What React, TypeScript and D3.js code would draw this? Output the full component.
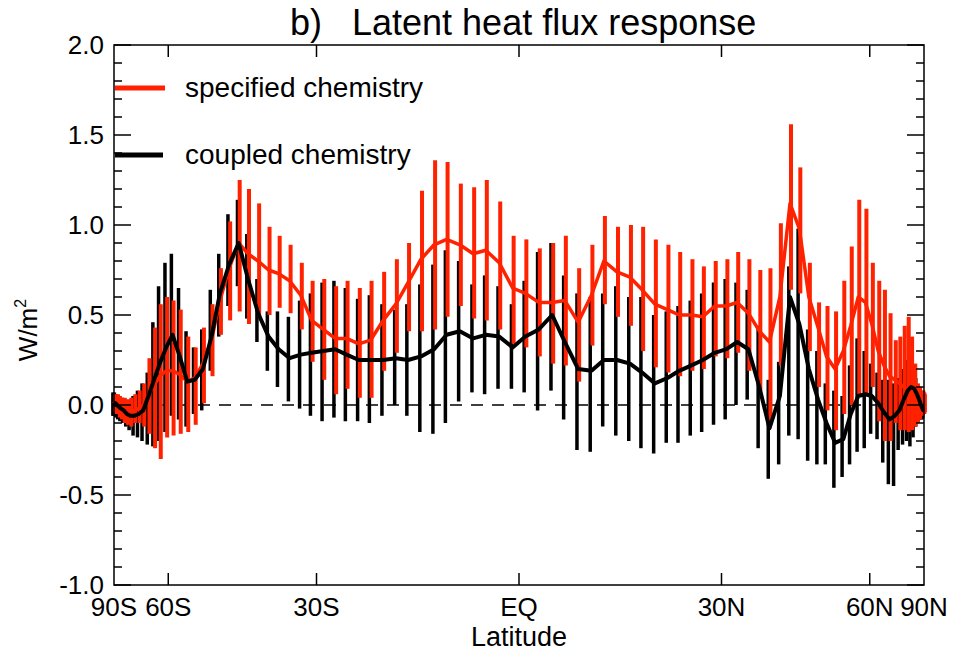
import React from "react";
import * as d3 from "d3";

const lats = [-88.6, -86.7, -84.9, -83.0, -81.1, -79.3, -77.4, -75.5, -73.7, -71.8, -69.9, -68.1, -66.2, -64.3, -62.5, -60.6, -58.8, -56.9, -55.0, -53.2, -51.3, -49.4, -47.6, -45.7, -43.8, -42.0, -40.1, -38.2, -36.4, -34.5, -32.6, -30.8, -28.9, -27.0, -25.2, -23.3, -21.5, -19.6, -17.7, -15.9, -14.0, -12.1, -10.3, -8.4, -6.5, -4.7, -2.8, -0.9, 0.9, 2.8, 4.7, 6.5, 8.4, 10.3, 12.1, 14.0, 15.9, 17.7, 19.6, 21.5, 23.3, 25.2, 27.0, 28.9, 30.8, 32.6, 34.5, 36.4, 38.2, 40.1, 42.0, 43.8, 45.7, 47.6, 49.4, 51.3, 53.2, 55.0, 56.9, 58.8, 60.6, 62.5, 64.3, 66.2, 68.1, 69.9, 71.8, 73.7, 75.5, 77.4, 79.3, 81.1, 83.0, 84.9, 86.7, 88.6];

const redMean = [0.02, 0.01, 0.0, 0.01, -0.01, -0.02, -0.03, -0.05, -0.05, -0.03, -0.02, 0.0,
  0.06, 0.11, 0.16, 0.19, 0.19, 0.17, 0.13, 0.15, 0.23, 0.36, 0.58, 0.76, 0.9, 0.84, 0.8, 0.75,
  0.73, 0.69, 0.61, 0.47, 0.42, 0.37, 0.37, 0.34, 0.36, 0.47, 0.56, 0.68, 0.81,
  0.89, 0.92, 0.89, 0.84, 0.86, 0.79, 0.65, 0.62, 0.57, 0.57, 0.58, 0.46,
  0.61, 0.8, 0.74, 0.71, 0.64, 0.56, 0.53, 0.5, 0.5, 0.49, 0.55, 0.55,
  0.57, 0.51, 0.41, 0.35, 0.6, 1.12, 0.98, 0.6, 0.43, 0.27, 0.2, 0.3, 0.44, 0.6, 0.57, 0.45, 0.3, 0.22, 0.16, 0.14, 0.12, 0.1, 0.08, 0.06, 0.05, 0.04, 0.03, 0.03, 0.03, 0.02, 0.02];
const redLo = [-0.04, -0.04, -0.05, -0.05, -0.07, -0.08, -0.1, -0.11, -0.12, -0.1, -0.1, -0.12,
  -0.16, -0.24, -0.3, -0.18, -0.17, -0.16, -0.15, -0.11, 0.01, 0.16, 0.39, 0.47, 0.52, 0.45, 0.49, 0.5,
  0.54, 0.51, 0.42, 0.24, 0.14, 0.06, 0.09, 0.04, 0.04, 0.19, 0.29, 0.41, 0.41,
  0.42, 0.49, 0.55, 0.48, 0.47, 0.42, 0.34, 0.32, 0.27, 0.23, 0.22, 0.13,
  0.33, 0.56, 0.49, 0.44, 0.3, 0.21, 0.18, 0.16, 0.19, 0.2, 0.27, 0.26,
  0.29, 0.19, 0.08, -0.09, 0.22, 0.64, 0.62, 0.3, 0.1, -0.03, -0.14, -0.05, 0.0, 0.06, 0.06, 0.1, -0.09, -0.2, -0.2, -0.1, -0.14, -0.14, -0.15, -0.14, -0.12, -0.1, -0.08, -0.06, -0.05, -0.05, -0.04];
const redHi = [0.06, 0.05, 0.05, 0.06, 0.05, 0.04, 0.04, 0.03, 0.04, 0.06, 0.08, 0.12,
  0.26, 0.43, 0.56, 0.6, 0.58, 0.53, 0.38, 0.32, 0.43, 0.56, 0.76, 1.02, 1.25, 1.2, 1.12, 0.99,
  0.94, 0.89, 0.79, 0.69, 0.7, 0.66, 0.69, 0.65, 0.69, 0.74, 0.81, 0.9, 1.19,
  1.36, 1.35, 1.23, 1.21, 1.25, 1.13, 0.94, 0.92, 0.87, 0.9, 0.94, 0.76,
  0.89, 1.05, 0.99, 1.0, 0.99, 0.92, 0.89, 0.85, 0.81, 0.77, 0.8, 0.81,
  0.85, 0.81, 0.75, 0.76, 1.01, 1.56, 1.32, 0.79, 0.57, 0.55, 0.52, 0.69, 0.88, 1.14, 1.09, 0.79, 0.69, 0.64, 0.51, 0.36, 0.38, 0.44, 0.49, 0.38, 0.23, 0.12, 0.1, 0.08, 0.08, 0.07, 0.06];

const blackMean = [0.01, 0.0, 0.01, 0.0, -0.01, -0.02, -0.03, -0.05, -0.06, -0.06, -0.05, -0.03,
  0.05, 0.14, 0.23, 0.32, 0.39, 0.27, 0.13, 0.14, 0.2, 0.38, 0.62, 0.78, 0.9, 0.7, 0.51, 0.38,
  0.31, 0.26, 0.28, 0.29, 0.3, 0.31, 0.28, 0.25, 0.25, 0.25, 0.26, 0.25, 0.27,
  0.31, 0.39, 0.41, 0.37, 0.39, 0.38, 0.32, 0.38, 0.42, 0.5, 0.35, 0.2,
  0.19, 0.25, 0.25, 0.23, 0.18, 0.12, 0.15, 0.19, 0.22, 0.25, 0.29, 0.31,
  0.35, 0.31, 0.1, -0.13, 0.05, 0.6, 0.45, 0.2, 0.03, -0.1, -0.21, -0.19, -0.05, 0.05, 0.06, 0.05, 0.01, -0.04, -0.08, -0.06, -0.03, 0.03, 0.08, 0.1, 0.09, 0.06, 0.03, 0.0, -0.02, -0.03, -0.03];
const blackLo = [-0.06, -0.06, -0.05, -0.07, -0.08, -0.09, -0.1, -0.12, -0.14, -0.17, -0.18, -0.2,
  -0.22, -0.23, -0.2, -0.15, -0.06, -0.08, -0.12, -0.05, -0.03, 0.19, 0.38, 0.55, 0.66, 0.48, 0.35, 0.19,
  0.1, 0.02, -0.02, -0.06, -0.09, -0.07, -0.09, -0.09, -0.1, -0.06, 0.0, -0.06, -0.15,
  -0.16, -0.1, 0.02, 0.07, 0.06, 0.09, 0.09, 0.07, -0.03, 0.08, -0.08, -0.25,
  -0.26, -0.12, -0.17, -0.2, -0.24, -0.27, -0.21, -0.21, -0.17, -0.15, -0.11, -0.08,
  0.0, 0.03, -0.24, -0.41, -0.33, -0.17, -0.19, -0.31, -0.33, -0.33, -0.46, -0.4, -0.33, -0.26, -0.24, -0.16, -0.19, -0.32, -0.44, -0.45, -0.25, -0.22, -0.2, -0.23, -0.18, -0.12, -0.1, -0.08, -0.08, -0.08, -0.07];
const blackHi = [0.07, 0.06, 0.07, 0.06, 0.05, 0.05, 0.04, 0.03, 0.03, 0.05, 0.08, 0.12,
  0.18, 0.46, 0.66, 0.79, 0.84, 0.65, 0.41, 0.32, 0.42, 0.64, 0.84, 1.06, 1.14, 0.95, 0.7, 0.52,
  0.52, 0.49, 0.58, 0.62, 0.68, 0.69, 0.65, 0.59, 0.61, 0.56, 0.53, 0.56, 0.67,
  0.78, 0.86, 0.8, 0.67, 0.72, 0.66, 0.56, 0.69, 0.85, 0.9, 0.72, 0.62,
  0.6, 0.62, 0.66, 0.6, 0.6, 0.5, 0.52, 0.55, 0.58, 0.62, 0.68, 0.7,
  0.68, 0.64, 0.44, 0.14, 0.24, 0.77, 0.98, 0.42, 0.3, 0.12, 0.08, 0.05, 0.22, 0.37, 0.3, 0.23, 0.18, 0.14, 0.14, 0.12, 0.15, 0.2, 0.25, 0.28, 0.22, 0.15, 0.1, 0.07, 0.05, 0.04, 0.03];

const xTickLats = [-90, -60, -30, 0, 30, 60, 90];
const xTickLabels = ["90S", "60S", "30S", "EQ", "30N", "60N", "90N"];
const yMajorTicks = [-1.0, -0.5, 0.0, 0.5, 1.0, 1.5, 2.0];
const seriesNames = ["specified chemistry", "coupled chemistry"];

const RED = "#ff2200";
const FONT = "'Liberation Sans', Arial, Helvetica, sans-serif";

export default function App() {
  const W = 953, H = 652;
  const left = 114, right = 924, top = 45, bottom = 585;
  const sx = d3.scaleLinear().domain([-1, 1]).range([left, right]);
  const x = (lat: number) => sx(Math.sin((lat * Math.PI) / 180));
  const y = d3.scaleLinear().domain([-1, 2]).range([bottom, top]);

  const minorTicks = d3.range(-10, 21).map((i) => i / 10).filter((v) => Math.abs(v * 2 - Math.round(v * 2)) > 1e-6);

  const lineGen = (vals: number[]) =>
    d3.line<number>().x((_, i) => x(lats[i])).y((v) => y(v))(vals) || "";

  return (
    <svg width={W} height={H} style={{ position: "absolute", left: 0, top: 0, background: "#fff" }} fontFamily={FONT}>
      <rect x={0} y={0} width={W} height={H} fill="#fff" />
      {/* title */}
      <text x={290} y={35} fontSize={36} fill="#000">b)</text>
      <text x={352} y={35} fontSize={36} fill="#000">Latent heat flux response</text>

      {/* zero dashed line */}
      <line x1={left} x2={right} y1={y(0)} y2={y(0)} stroke="#000" strokeWidth={1.5} strokeDasharray="12 9" />

      {/* black bars */}
      <g>
        {lats.map((lat, i) => (
          <line key={"bb" + i} x1={x(lat) - 1.2} x2={x(lat) - 1.2} y1={y(blackLo[i])} y2={y(blackHi[i])} stroke="#000" strokeWidth={3.5} />
        ))}
      </g>
      {/* red bars */}
      <g>
        {lats.map((lat, i) => (
          <line key={"rb" + i} x1={x(lat) + 1} x2={x(lat) + 1} y1={y(redLo[i])} y2={y(redHi[i])} stroke={RED} strokeWidth={4} />
        ))}
      </g>
      <path d={lineGen(redMean)} fill="none" stroke={RED} strokeWidth={3.5} strokeLinejoin="round" />
      <path d={lineGen(blackMean)} fill="none" stroke="#000" strokeWidth={4} strokeLinejoin="round" />

      {/* frame */}
      <rect x={left} y={top} width={right - left} height={bottom - top} fill="none" stroke="#000" strokeWidth={1.5} />

      {/* y ticks */}
      {yMajorTicks.map((v) => (
        <g key={"ym" + v}>
          <line x1={left} x2={left + 17} y1={y(v)} y2={y(v)} stroke="#000" strokeWidth={1.5} />
          <line x1={right - 17} x2={right} y1={y(v)} y2={y(v)} stroke="#000" strokeWidth={1.5} />
          <text x={104} y={y(v) + 9} fontSize={26} textAnchor="end" fill="#000">{v.toFixed(1)}</text>
        </g>
      ))}
      {minorTicks.map((v) => (
        <g key={"yn" + v}>
          <line x1={left} x2={left + 8} y1={y(v)} y2={y(v)} stroke="#000" strokeWidth={1.5} />
          <line x1={right - 8} x2={right} y1={y(v)} y2={y(v)} stroke="#000" strokeWidth={1.5} />
        </g>
      ))}

      {/* x ticks */}
      {xTickLats.map((lat, i) => (
        <g key={"xt" + lat}>
          {Math.abs(lat) < 90 && (
            <>
              <line x1={x(lat)} x2={x(lat)} y1={bottom} y2={bottom - 12} stroke="#000" strokeWidth={1.5} />
              <line x1={x(lat)} x2={x(lat)} y1={top} y2={top + 12} stroke="#000" strokeWidth={1.5} />
            </>
          )}
          <text x={x(lat)} y={616} fontSize={26} textAnchor="middle" fill="#000">{xTickLabels[i]}</text>
        </g>
      ))}
      <text x={519} y={646} fontSize={27} textAnchor="middle" fill="#000">Latitude</text>
      <text transform="translate(37,330) rotate(-90)" fontSize={26} textAnchor="middle" fill="#000">
        W/m<tspan fontSize={16} dy={-11}>2</tspan>
      </text>

      {/* legend */}
      <line x1={115} x2={165} y1={88} y2={88} stroke={RED} strokeWidth={5} />
      <text x={185} y={97} fontSize={28} fill="#000">{seriesNames[0]}</text>
      <line x1={115} x2={163} y1={155} y2={155} stroke="#000" strokeWidth={5} />
      <text x={185} y={164} fontSize={28} fill="#000">{seriesNames[1]}</text>
    </svg>
  );
}
